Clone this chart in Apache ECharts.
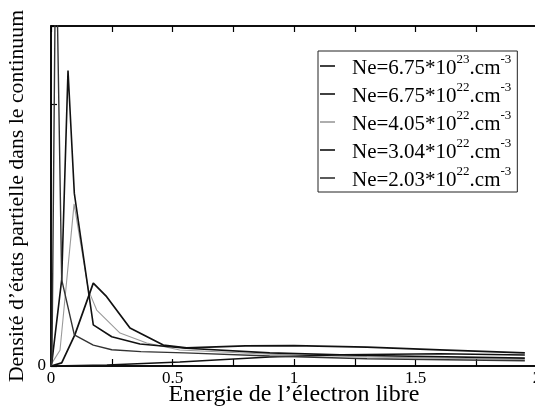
<!DOCTYPE html>
<html>
<head>
<meta charset="utf-8">
<script src="https://cdn.jsdelivr.net/npm/echarts@6/dist/echarts.min.js"></script>
<style>
  html, body { margin: 0; padding: 0; background: #fff; }
  #chart { width: 535px; height: 411px; }
</style>
</head>
<body>
<div id="chart"></div>
<script>
// Partial density of continuum states versus free-electron energy, one curve per electron density.

// Legend text parts: mantissa and exponent of each density (cm^-3)
const mantissas = ['6.75', '6.75', '4.05', '3.04', '2.03'];
const exponents = ['23', '22', '22', '22', '22'];

// Ne = 6.75e23 : slow rise, broad distribution
const energy1 = [0, 0.23, 0.53, 0.9, 1.2, 1.6, 1.95];
const dos1    = [0, 0.004, 0.015, 0.034, 0.043, 0.047, 0.042];

// Ne = 6.75e22 : peak near 0.17, then broad hump
const energy2 = [0, 0.003, 0.044, 0.098, 0.174, 0.229, 0.325, 0.462, 0.558, 0.8, 1.0, 1.3, 1.6, 1.95];
const dos2    = [0, 0.002, 0.012, 0.119, 0.317, 0.265, 0.145, 0.08, 0.069, 0.077, 0.078, 0.072, 0.062, 0.05];

// Ne = 4.05e22 : peak near 0.095
const energy3 = [0, 0.003, 0.037, 0.095, 0.154, 0.188, 0.284, 0.394, 0.53, 0.9, 1.3, 1.95];
const dos3    = [0, 0.01, 0.06, 0.62, 0.29, 0.214, 0.126, 0.088, 0.061, 0.045, 0.035, 0.025];

// Ne = 3.04e22 : sharp peak near 0.07
const energy4 = [0, 0.003, 0.044, 0.07, 0.096, 0.174, 0.25, 0.366, 0.558, 0.9, 1.3, 1.95];
const dos4    = [0, 0.01, 0.33, 1.13, 0.66, 0.157, 0.112, 0.084, 0.068, 0.05, 0.04, 0.03];

// Ne = 2.03e22 : spike right at threshold
const energy5 = [0, 0.004, 0.02, 0.044, 0.096, 0.174, 0.25, 0.37, 0.55, 0.9, 1.3, 1.95];
const dos5    = [0, 0.03, 1.7, 0.33, 0.119, 0.08, 0.062, 0.055, 0.05, 0.038, 0.028, 0.02];

// Axis ticks
const xTickStep = 0.25;
const xLabelValues = [0, 0.5, 1, 1.5, 2];
const yMax = 1.3;

const colors = ['#111', '#111', '#9a9a9a', '#111', '#333'];
const widths = [1.5, 1.7, 1.1, 1.6, 1.4];

const energies = [energy1, energy2, energy3, energy4, energy5];
const values = [dos1, dos2, dos3, dos4, dos5];

const names = mantissas.map((m, i) => 'Ne=' + m + '*10^' + exponents[i] + '.cm^-3');

const pair = (xs, ys) => xs.map((x, i) => [x, ys[i]]);

const serif = 'Liberation Serif';

const series = names.map((name, i) => ({
  name: name,
  type: 'line',
  xAxisIndex: 0,
  yAxisIndex: 0,
  data: pair(energies[i], values[i]),
  showSymbol: false,
  symbol: 'none',
  clip: true,
  lineStyle: { color: colors[i], width: widths[i] },
  itemStyle: { color: colors[i] },
  z: i === 2 ? 1 : 2
}));

const chart = echarts.init(document.getElementById('chart'), null, { renderer: 'canvas' });

chart.setOption({
  animation: false,
  backgroundColor: '#fff',
  grid: {
    left: 51, top: 26, right: -2, bottom: 45,
    containLabel: false,
    outerBoundsMode: 'none',
    show: true, borderColor: '#000', borderWidth: 1.5, backgroundColor: 'transparent'
  },
  legend: {
    orient: 'vertical',
    left: 318, top: 51,
    padding: [2, 6, 1, 2],
    itemGap: 2,
    itemWidth: 15,
    itemHeight: 1.6,
    icon: 'rect',
    backgroundColor: '#fff',
    borderColor: '#222',
    borderWidth: 1,
    data: names,
    formatter: function (name) {
      const i = names.indexOf(name);
      return '{n|Ne=' + mantissas[i] + '*10}{sup|' + exponents[i] + '}{n|.cm}{sup|-3}';
    },
    textStyle: {
      fontFamily: serif,
      color: '#000',
      padding: [0, 0, 0, 12],
      rich: {
        n: { fontFamily: serif, fontSize: 21, lineHeight: 26, color: '#000', verticalAlign: 'bottom' },
        sup: { fontFamily: serif, fontSize: 13, lineHeight: 13, color: '#000', verticalAlign: 'top' }
      }
    }
  },
  xAxis: [
    {
      type: 'value',
      min: 0, max: 2, interval: xTickStep,
      position: 'bottom',
      name: 'Energie de l’électron libre',
      nameLocation: 'middle',
      nameMoveOverlap: false,
      nameGap: 17,
      nameTextStyle: { fontFamily: serif, fontSize: 24, color: '#000' },
      axisLine: { show: true, lineStyle: { color: '#000', width: 1.5 } },
      axisTick: { show: true, inside: true, length: 7, lineStyle: { color: '#000', width: 1.2 } },
      axisLabel: {
        margin: 4,
        fontFamily: serif, fontSize: 17, color: '#000',
        showMaxLabel: true,
        formatter: v => (xLabelValues.some(t => Math.abs(t - v) < 1e-9) ? String(v) : '')
      },
      splitLine: { show: false }
    },
    {
      type: 'value',
      min: 0, max: 2, interval: xTickStep,
      position: 'top',
      axisLine: { show: true, lineStyle: { color: '#000', width: 1.5 } },
      axisTick: { show: true, inside: true, length: 6, lineStyle: { color: '#000', width: 1.2 } },
      axisLabel: { show: false },
      splitLine: { show: false }
    }
  ],
  yAxis: {
    type: 'value',
    min: 0, max: yMax, interval: 1,
    name: 'Densité d’états partielle dans le continuum',
    nameLocation: 'middle',
    nameMoveOverlap: false,
    nameRotate: 90,
    nameGap: 23,
    nameTextStyle: { fontFamily: serif, fontSize: 21.8, color: '#000' },
    axisLine: { show: true, lineStyle: { color: '#000', width: 1.5 } },
    axisTick: { show: true, inside: true, length: 6, lineStyle: { color: '#000', width: 1.2 } },
    axisLabel: {
      margin: 5,
      fontFamily: serif, fontSize: 17, color: '#000',
      formatter: v => (v === 0 ? '0' : '')
    },
    splitLine: { show: false }
  },
  series: series
});
</script>
</body>
</html>
